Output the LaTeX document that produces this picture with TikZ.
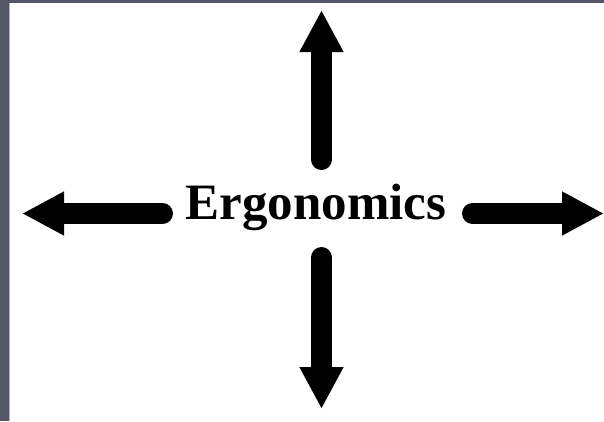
\documentclass[tikz,border=0pt]{standalone}
\usepackage{fontspec}
\setmainfont{Liberation Serif}
\usetikzlibrary{arrows.meta}
\definecolor{frame}{RGB}{85,86,104}
\tikzset{
    bigarrow/.style={line width=21pt, line cap=round, -{Triangle[length=42pt,width=41pt]}},
    title/.style={font=\fontsize{51}{51}\selectfont\bfseries, inner sep=0pt, anchor=base}
}
\begin{document}
\begin{tikzpicture}[x=1pt, y=-1pt]
    \useasboundingbox (0,0) rectangle (604,421);
    \fill[frame] (0,0) rectangle (604,421);
    \fill[white] (10,3) rectangle (604,421);
    \draw[black!30, line width=1pt] (9.5,3) -- (9.5,421);

    \node (erg) [title] at (316,219) {Ergonomics};

    \coordinate (uptail) at (321.5,159.5);
    \coordinate (uptip) at (321.5,10);
    \coordinate (downtail) at (321.5,257.5);
    \coordinate (downtip) at (321.5,409);
    \coordinate (lefttail) at (162.5,213.5);
    \coordinate (lefttip) at (22,213.5);
    \coordinate (righttail) at (472.5,213.5);
    \coordinate (righttip) at (604,213.5);

    \draw[bigarrow] (uptail) -- (uptip);
    \draw[bigarrow] (downtail) -- (downtip);
    \draw[bigarrow] (lefttail) -- (lefttip);
    \draw[bigarrow] (righttail) -- (righttip);
\end{tikzpicture}
\end{document}
